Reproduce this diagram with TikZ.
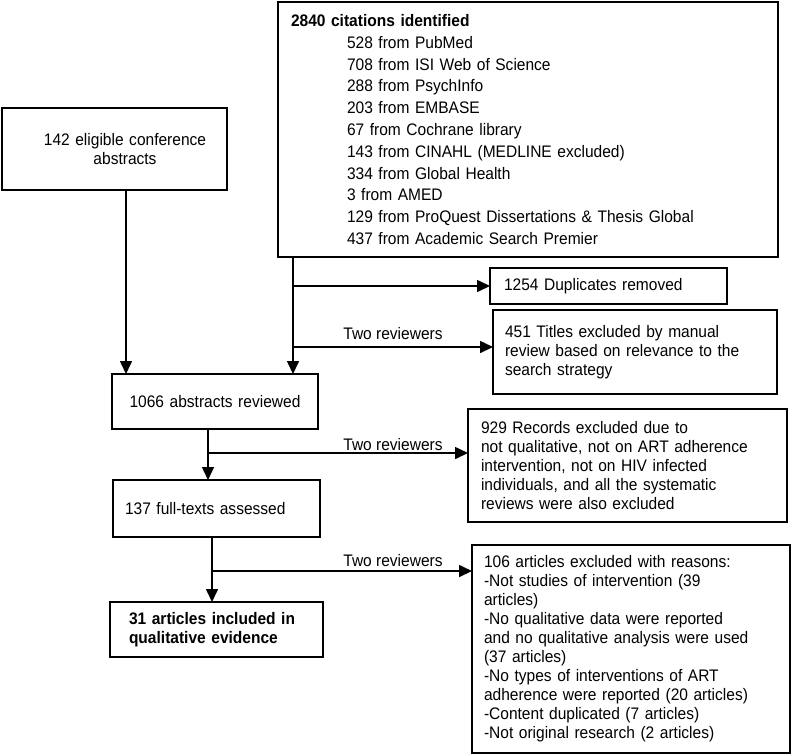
\documentclass[tikz,border=0pt]{standalone}
\usepackage{fontspec}
\setmainfont{Liberation Sans}[FakeStretch=0.93]
\usetikzlibrary{arrows.meta}
\begin{document}
\begin{tikzpicture}[x=1pt,y=-1pt,
  bx/.style={draw, line width=1.6pt, anchor=north west, outer sep=0pt, inner ysep=0pt,
    font=\fontsize{16.7}{19}\selectfont},
  conn/.style={line width=1.6pt},
  arr/.style={conn, -{Triangle[length=13pt,width=12pt]}},
  lab/.style={font=\fontsize{16.7}{19}\selectfont, inner sep=0pt}]
\useasboundingbox (0,0) rectangle (791,755);

% boxes
\node[bx, align=left, minimum width=500pt, minimum height=255pt, inner xsep=13pt, text width=474pt,
  font=\fontsize{16.7}{21.8}\selectfont] (src) at (278,2)
  {\textbf{2840 citations identified}\\
   \hspace*{56pt}528 from PubMed\\
   \hspace*{56pt}708 from ISI Web of Science\\
   \hspace*{56pt}288 from PsychInfo\\
   \hspace*{56pt}203 from EMBASE\\
   \hspace*{56pt}67 from Cochrane library\\
   \hspace*{56pt}143 from CINAHL (MEDLINE excluded)\\
   \hspace*{56pt}334 from Global Health\\
   \hspace*{56pt}3 from AMED\\
   \hspace*{56pt}129 from ProQuest Dissertations \& Thesis Global\\
   \hspace*{56pt}437 from Academic Search Premier};

\node[bx, align=center, minimum width=225pt, minimum height=82pt, inner xsep=10pt, text width=205pt] (conf) at (2,108)
  {\hspace*{21pt}142 eligible conference\\\hspace*{21pt}abstracts};

\node[bx, align=left, minimum width=237pt, minimum height=36pt, inner xsep=14pt, text width=209pt] (dup) at (490,268)
  {1254 Duplicates removed};

\node[bx, align=left, minimum width=284pt, minimum height=84pt, inner xsep=12pt, text width=260pt] (tit) at (493,310)
  {451 Titles excluded by manual\\review based on relevance to the\\search strategy};

\node[bx, align=center, minimum width=206pt, minimum height=55pt, inner xsep=8pt, text width=190pt] (abs) at (112,374)
  {1066 abstracts reviewed};

\node[bx, align=left, minimum width=319pt, minimum height=113pt, inner xsep=13pt, text width=293pt] (rec) at (468,409)
  {929 Records excluded due to\\not qualitative, not on ART adherence\\intervention, not on HIV infected\\individuals, and all the systematic\\reviews were also excluded};

\node[bx, align=left, minimum width=207pt, minimum height=57pt, inner xsep=12pt, text width=183pt] (full) at (113,480)
  {137 full-texts assessed};

\node[bx, align=left, minimum width=318pt, minimum height=208pt, inner xsep=12pt, text width=294pt] (art) at (472,545)
  {106 articles excluded with reasons:\\-Not studies of intervention (39\\articles)\\-No qualitative data were reported\\and no qualitative analysis were used\\(37 articles)\\-No types of interventions of ART\\adherence were reported (20 articles)\\-Content duplicated (7 articles)\\-Not original research (2 articles)};

\node[bx, align=left, minimum width=213pt, minimum height=55pt, inner xsep=19pt, text width=175pt] (incl) at (110,602)
  {\textbf{31 articles included in}\\\textbf{qualitative evidence}};

% connectors
\draw[arr] ([xshift=11.5pt]conf.south) coordinate (c1) -- (c1 |- abs.north);
\draw[arr] ([xshift=15pt]src.south west) coordinate (m0) -- (m0 |- abs.north);
\draw[arr] (m0 |- dup.west) -- (dup.west);
\coordinate (t0) at ([yshift=5pt]tit.west);
\draw[arr] (m0 |- t0) -- (t0);
\node[lab] (l1) at (393,334) {Two reviewers};

\draw[arr] ([xshift=-7pt]abs.south) coordinate (a0) -- (a0 |- full.north);
\coordinate (r0) at ([yshift=12.5pt]rec.west);
\draw[arr] (a0 |- r0) -- (r0);
\node[lab] (l2) at (393,445) {Two reviewers};

\draw[arr] ([xshift=-4.5pt]full.south) coordinate (f0) -- (f0 |- incl.north);
\coordinate (q0) at ([yshift=78pt]art.west);
\draw[arr] (f0 |- q0) -- (q0);
\node[lab] (l3) at (393,561) {Two reviewers};
\end{tikzpicture}
\end{document}
